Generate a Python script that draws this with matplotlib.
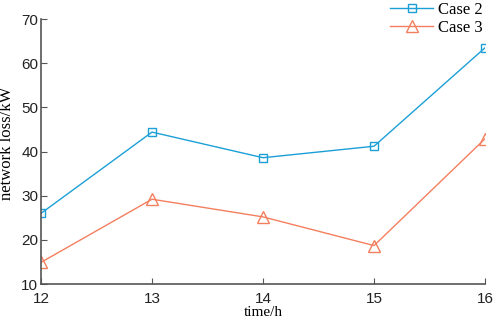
import matplotlib
matplotlib.use("Agg")
import matplotlib.pyplot as plt

hours = [12, 13, 14, 15, 16]
case2 = [26.0, 44.4, 38.6, 41.2, 63.5]
case3 = [14.9, 29.2, 25.2, 18.7, 42.9]
yticks = [10, 20, 30, 40, 50, 60, 70]

blue = "#1c9fd6"
orange = "#f47f5f"
grey = "#555555"

fig = plt.figure(figsize=(4.98, 3.23), dpi=100)
ax = fig.add_axes([0.0823, 0.1207, 0.8917, 0.8203])
ax.plot(hours, case2, color=blue, lw=1.0, marker="s", ms=6, mfc="none", mew=1.0, label="Case 2")
ax.plot(hours, case3, color=orange, lw=1.0, marker="^", ms=8, mfc="none", mew=1.0, label="Case 3")
ax.set_xlim(12, 16)
ax.set_ylim(10, 70)
ax.set_xticks(hours)
ax.set_yticks(yticks)
for s in ["top", "right"]:
    ax.spines[s].set_visible(False)
for s in ["left", "bottom"]:
    ax.spines[s].set_color(grey)
    ax.spines[s].set_linewidth(1.2)
ax.tick_params(direction="in", length=4, color=grey, labelsize=11)
ax.tick_params(axis="x", pad=6)
ax.tick_params(axis="y", pad=2)
for lab in ax.get_xticklabels() + ax.get_yticklabels():
    lab.set_family("Liberation Sans")
    lab.set_color("#222222")
ax.set_xlabel("time/h", family="Liberation Serif", fontsize=11, labelpad=0)
ax.set_ylabel("network loss/kW", family="Liberation Serif", fontsize=12)
ax.yaxis.set_label_coords(-0.058, 0.53)
leg = ax.legend(loc="upper right", bbox_to_anchor=(1.01, 1.09), frameon=False,
                prop={"family": "Liberation Serif", "size": 12}, handlelength=2.6,
                labelspacing=0.1, handletextpad=0.3, borderaxespad=0)
fig.savefig("out.png", dpi=100)
